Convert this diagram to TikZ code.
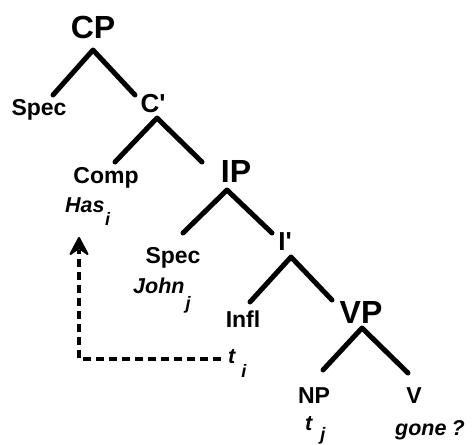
\documentclass[tikz,border=0pt]{standalone}
\usepackage{fontspec}
\setmainfont{Liberation Sans}
% lowered index letter after a word (kern, drop, letter)
\newcommand{\idx}[3]{\kern#1\raisebox{-#2}{\fontsize{18}{18}\selectfont\bfseries\itshape #3}}
\newcommand{\prm}{\textquotesingle}
\begin{document}
\begin{tikzpicture}[x=1pt,y=-1pt,
  branch/.style={line width=5pt, line cap=round, line join=round},
  phrase/.style={inner sep=0pt, anchor=base, font=\fontsize{32}{32}\selectfont\bfseries},
  barlevel/.style={inner sep=0pt, anchor=base, font=\fontsize{26}{26}\selectfont\bfseries},
  lab/.style={inner sep=0pt, anchor=base, font=\fontsize{23}{23}\selectfont\bfseries},
  word/.style={inner sep=0pt, anchor=base west, font=\fontsize{21.5}{21.5}\selectfont\bfseries\itshape},
  movement/.style={line width=3.4pt, dash pattern=on 8pt off 5pt},
  headtip/.style={fill=black, draw=black, line width=2pt, line join=round}
]
\useasboundingbox (0,0) rectangle (472,445);

% category labels
\node[phrase]   (cp)    at (93,38)   {CP};
\node[lab]      (spec1) at (39,115)  {Spec};
\node[barlevel] (cbar)  at (153,112) {C\prm};
\node[lab]      (comp)  at (106,183) {Comp};
\node[phrase]   (ip)    at (236,182) {IP};
\node[lab]      (spec2) at (173,263) {Spec};
\node[barlevel] (ibar)  at (285,250) {I\prm};
\node[lab]      (infl)  at (243,327) {Infl};
\node[phrase]   (vp)    at (361,323) {VP};
\node[lab]      (np)    at (314,403) {NP};
\node[lab]      (v)     at (414,403) {V};

% words and traces
\node[word] (has)  at (65,212)  {Has\idx{0.5pt}{13pt}{i}};
\node[word] (john) at (133,293) {John\idx{1pt}{16pt}{j}};
\node[word] (ti)   at (228,363) {t\idx{6pt}{14pt}{i}};
\node[word] (tj)   at (305,430) {t\idx{8pt}{10pt}{j}};
\node[word] (gone) at (395,435) {gone\hspace{5pt}?};

% branch points
\coordinate (cp-top)  at (93,50);
\coordinate (cp-l)    at (53,95);
\coordinate (cp-r)    at (135,95);
\coordinate (c-top)   at (157,118);
\coordinate (c-l)     at (115,162);
\coordinate (c-r)     at (202,162);
\coordinate (ip-top)  at (227,190);
\coordinate (ip-l)    at (183,233);
\coordinate (ip-r)    at (272,233);
\coordinate (i-top)   at (291,257);
\coordinate (i-l)     at (250,302);
\coordinate (i-r)     at (332,300);
\coordinate (vp-top)  at (362,328);
\coordinate (vp-l)    at (323,370);
\coordinate (vp-r)    at (408,373);

\draw[branch] (cp-l) -- (cp-top) -- (cp-r);
\draw[branch] (c-l)  -- (c-top)  -- (c-r);
\draw[branch] (ip-l) -- (ip-top) -- (ip-r);
\draw[branch] (i-l)  -- (i-top)  -- (i-r);
\draw[branch] (vp-l) -- (vp-top) -- (vp-r);

% movement of the auxiliary: dashed path ending in a notched head
\coordinate (trace-end) at (221,359);
\coordinate (bend)      at (79,359);
\coordinate (head-base) at (79,250);
\coordinate (landing)   at (79,238);
\coordinate (barb-l)    at (70.5,254);
\coordinate (notch)     at (79,248);
\coordinate (barb-r)    at (87.5,254);
\draw[movement] (trace-end) -- (bend) -- (head-base);
\draw[headtip] (landing) -- (barb-l) -- (notch) -- (barb-r) -- cycle;
\end{tikzpicture}
\end{document}
